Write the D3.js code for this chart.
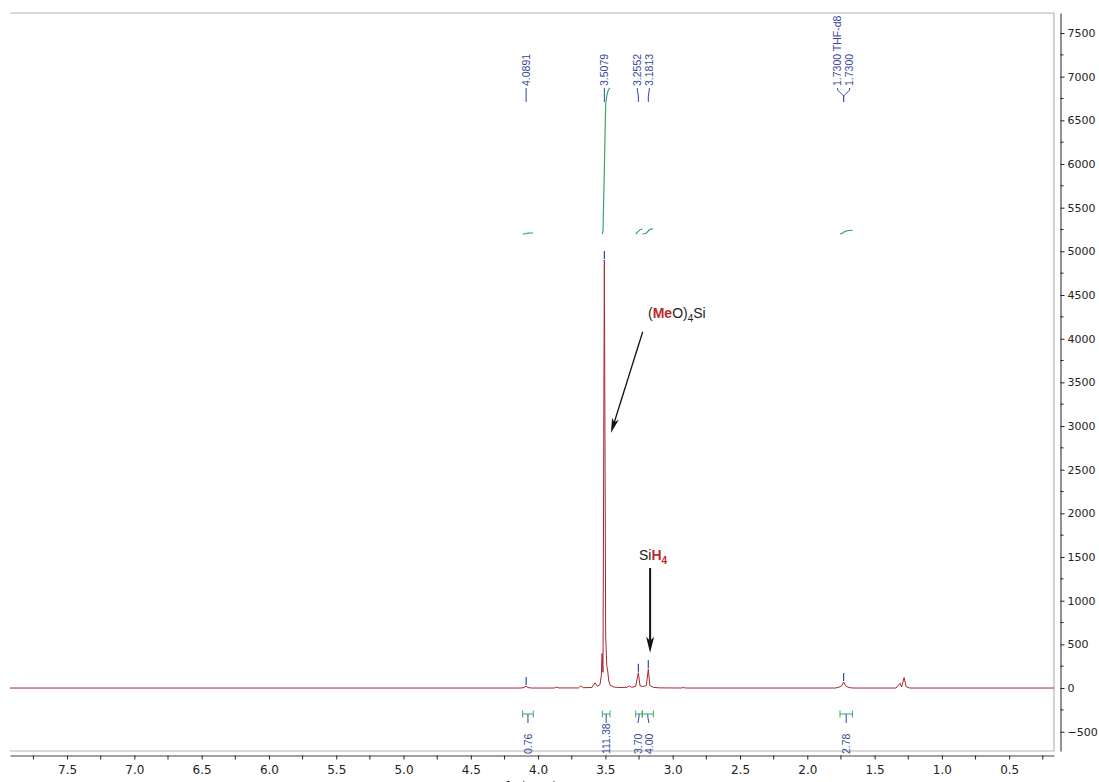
<!DOCTYPE html>
<html><head><meta charset="utf-8">
<script src="https://cdn.jsdelivr.net/npm/d3@7"></script>
<style>body{margin:0;background:#fff}svg{display:block}</style>
</head><body><svg id="c" width="1099" height="782"></svg>
<script>
// ---- data ----
const shiftPpm = [7.924,4.13,4.105,4.0891,4.075,4.05,3.88,3.862,3.845,3.70,3.683,3.665,3.60,3.577,3.56,3.54,3.530,3.525,3.518,3.5079,3.498,3.490,3.483,3.475,3.466,3.44,3.40,3.34,3.322,3.305,3.275,3.2552,3.243,3.215,3.196,3.1813,3.17,3.145,3.10,2.94,2.921,2.90,1.79,1.765,1.745,1.73,1.715,1.69,1.66,1.34,1.311,1.299,1.281,1.265,1.24,0.167];
const intensity = [0,0,5,22,5,0,0,10,1,1,25,4,6,60,20,40,150,395,180,4900,600,260,195,80,35,12,6,8,25,8,20,175,25,18,30,215,30,8,2,0,5,0,0,10,25,70,25,5,0,0,55,12,120,15,0,0];
const peakPpm = [4.0891,3.5079,3.2552,3.1813,1.7300,1.7300];
const peakLabels = ["4.0891","3.5079","3.2552","3.1813","1.7300 THF-d8","1.7300"];
const intFrom = [4.115,3.523,3.275,3.226,1.757];
const intTo = [4.036,3.466,3.226,3.144,1.665];
const intValues = [0.76,111.38,3.70,4.00,2.78];
const xTicks = [7.5,7.0,6.5,6.0,5.5,5.0,4.5,4.0,3.5,3.0,2.5,2.0,1.5,1.0,0.5];
const xMinor = [7.75,7.25,6.75,6.25,5.75,5.25,4.75,4.25,3.75,3.25,2.75,2.25,1.75,1.25,0.75,0.25];
const yTicks = [-500,0,500,1000,1500,2000,2500,3000,3500,4000,4500,5000,5500,6000,6500,7000,7500];
const yMinor = [-750,-250,250,750,1250,1750,2250,2750,3250,3750,4250,4750,5250,5750,6250,6750,7250];

// ---- layout ----
const svg = d3.select("#c");
const L = 10, R = 1054, T = 13, B = 751;
const x = d3.scaleLinear().domain([7.924, 0.167]).range([L, R]);
const y = d3.scaleLinear().domain([-721, 7729]).range([B, T]);
const BLUE = "#34479a", GREEN = "#3aa66a", RED = "#a8282d";
const axisFont = "DejaVu Sans", lblFont = "Liberation Sans, Arial, sans-serif";

// frame
const fr = svg.append("g").attr("stroke", "#b4b4b4").attr("stroke-width", 1.2).attr("fill", "none");
fr.append("line").attr("x1", L).attr("x2", R).attr("y1", T).attr("y2", T);
fr.append("line").attr("x1", R).attr("x2", R).attr("y1", T).attr("y2", B);
fr.append("line").attr("x1", L).attr("x2", R).attr("y1", B).attr("y2", B);

// right axis
const ya = svg.append("g").attr("transform", "translate(1060.5,0)")
  .call(d3.axisRight(y).tickValues(yTicks).tickFormat(d3.format("d")).tickSize(4).tickSizeOuter(0).tickPadding(3));
ya.select(".domain").attr("stroke", "#222");
ya.selectAll(".tick line").attr("stroke", "#222");
ya.selectAll("text").attr("font-family", axisFont).attr("font-size", 11).attr("fill", "#222");
svg.append("g").selectAll("line").data(yMinor.filter(v => y(v) >= T && y(v) <= B)).join("line")
  .attr("x1", 1060.5).attr("x2", 1063.5).attr("y1", d => y(d)).attr("y2", d => y(d)).attr("stroke", "#222");

// bottom axis
const xa = svg.append("g").attr("transform", "translate(0,755.5)")
  .call(d3.axisBottom(x).tickValues(xTicks).tickFormat(d3.format(".1f")).tickSize(4).tickSizeOuter(0).tickPadding(6));
xa.select(".domain").attr("stroke", "#444").attr("stroke-width", 1.2);
xa.selectAll(".tick line").attr("stroke", "#222");
xa.selectAll("text").attr("font-family", axisFont).attr("font-size", 12).attr("fill", "#222");
svg.append("g").selectAll("line").data(xMinor).join("line")
  .attr("x1", d => x(d)).attr("x2", d => x(d)).attr("y1", 755.5).attr("y2", 759.5).attr("stroke", "#222");
svg.append("text").attr("x", 531).attr("y", 791).attr("text-anchor", "middle")
  .attr("font-family", axisFont).attr("font-size", 12).attr("fill", "#222").text("f1 (ppm)");

// spectrum trace
const pts = shiftPpm.map((p, i) => [p, intensity[i]]);
svg.append("path").datum(pts).attr("fill", "none").attr("stroke", RED).attr("stroke-width", 1)
  .attr("d", d3.line().x(d => x(d[0])).y(d => y(d[1])));

function interpAt(p) {
  for (let i = 0; i < shiftPpm.length - 1; i++) {
    const a = shiftPpm[i], b = shiftPpm[i + 1];
    if (p <= a && p >= b) { const t = (a - p) / (a - b); return intensity[i] + t * (intensity[i + 1] - intensity[i]); }
  }
  return 0;
}
function spread(xs, gap) {
  const o = xs.map((v, i) => ({ v, i })).sort((a, b) => a.v - b.v || a.i - b.i);
  for (let k = 0; k < 20; k++) for (let j = 1; j < o.length; j++) {
    const d = o[j].v - o[j - 1].v;
    if (d < gap) { const s = (gap - d) / 2; o[j].v += s; o[j - 1].v -= s; }
  }
  const r = []; o.forEach(e => r[e.i] = e.v); return r;
}

// peak labels
const peakX = peakPpm.map(p => x(p));
const labX = spread(peakX, 12);
const pk = svg.append("g");
peakPpm.forEach((p, i) => {
  const px = peakX[i], lx = labX[i];
  pk.append("text").attr("transform", `translate(${lx},86) rotate(-90)`).attr("dy", "0.35em")
    .attr("font-family", lblFont).attr("font-size", 10.5).attr("fill", BLUE).text(peakLabels[i]);
  pk.append("path").attr("fill", "none").attr("stroke", BLUE).attr("stroke-width", 1)
    .attr("d", `M${lx},88 L${lx},90 L${px},96 L${px},102`);
});
// peak markers above picked peaks
Array.from(new Set(peakPpm)).forEach(p => {
  const yy = y(interpAt(p));
  svg.append("line").attr("x1", x(p)).attr("x2", x(p)).attr("y1", yy - 9).attr("y2", yy - 1)
    .attr("stroke", BLUE).attr("stroke-width", 1.2);
});

// integrals
const intBase = 234, intK = 146 / 111.38;
intValues.forEach((v, i) => {
  const a = intFrom[i], b = intTo[i];
  const ps = [[a, interpAt(a)]];
  shiftPpm.forEach((p, j) => { if (p < a && p > b) ps.push([p, intensity[j]]); });
  ps.push([b, interpAt(b)]);
  const cum = [0];
  for (let j = 1; j < ps.length; j++) cum.push(cum[j - 1] + (ps[j - 1][0] - ps[j][0]) * (ps[j - 1][1] + ps[j][1]) / 2);
  const tot = cum[cum.length - 1];
  const curve = ps.map((d, j) => [x(d[0]), intBase - (cum[j] / tot) * v * intK]);
  svg.append("path").attr("fill", "none").attr("stroke", GREEN).attr("stroke-width", 1.2).attr("d", d3.line()(curve));
});
// integral brackets & labels
const brC = intValues.map((v, i) => (x(intFrom[i]) + x(intTo[i])) / 2);
const brL = spread(brC, 11);
intValues.forEach((v, i) => {
  const x1 = x(intFrom[i]), x2 = x(intTo[i]);
  svg.append("path").attr("fill", "none").attr("stroke", GREEN).attr("stroke-width", 1)
    .attr("d", `M${x1},710.5 V717.5 M${x1},714 H${x2} M${x2},710.5 V717.5`);
  svg.append("path").attr("fill", "none").attr("stroke", BLUE).attr("stroke-width", 1)
    .attr("d", `M${brC[i]},714 L${brC[i]},717 L${brL[i]},723`);
  svg.append("text").attr("transform", `translate(${brL[i]},754) rotate(-90)`).attr("dy", "0.35em")
    .attr("font-family", lblFont).attr("font-size", 10.5).attr("fill", BLUE).text(d3.format(".2f")(v));
});

// annotations
function arrow(x1, y1, x2, y2, w, hl, hw) {
  const ang = Math.atan2(y2 - y1, x2 - x1), ux = Math.cos(ang), uy = Math.sin(ang), nx = -uy, ny = ux;
  const bx = x2 - ux * hl, by = y2 - uy * hl;
  const nxp = x2 - ux * hl * 0.75, nyp = y2 - uy * hl * 0.75;
  svg.append("line").attr("x1", x1).attr("y1", y1).attr("x2", nxp).attr("y2", nyp).attr("stroke", "#111").attr("stroke-width", w);
  svg.append("path").attr("fill", "#111")
    .attr("d", `M${x2},${y2} L${bx + nx * hw / 2},${by + ny * hw / 2} L${nxp},${nyp} L${bx - nx * hw / 2},${by - ny * hw / 2} Z`);
}
const t1 = svg.append("text").attr("x", 648).attr("y", 318).attr("font-family", lblFont).attr("font-size", 14).attr("fill", "#231f20");
t1.append("tspan").text("(");
t1.append("tspan").attr("font-weight", "bold").attr("fill", "#c0272d").text("Me");
t1.append("tspan").text("O)");
t1.append("tspan").attr("font-size", 10).attr("dy", 4).text("4");
t1.append("tspan").attr("dy", -4).text("Si");
arrow(x(3.223), y(4080), x(3.459), y(2920), 1.3, 15, 7);

const t2 = svg.append("text").attr("x", 639).attr("y", 560).attr("font-family", lblFont).attr("font-size", 14).attr("fill", "#231f20");
t2.append("tspan").text("Si");
t2.append("tspan").attr("font-weight", "bold").attr("fill", "#c0272d").text("H");
t2.append("tspan").attr("font-weight", "bold").attr("fill", "#c0272d").attr("font-size", 10).attr("dy", 4).text("4");
arrow(x(3.168), y(1374), x(3.168), y(404), 2, 16, 8);
</script></body></html>
